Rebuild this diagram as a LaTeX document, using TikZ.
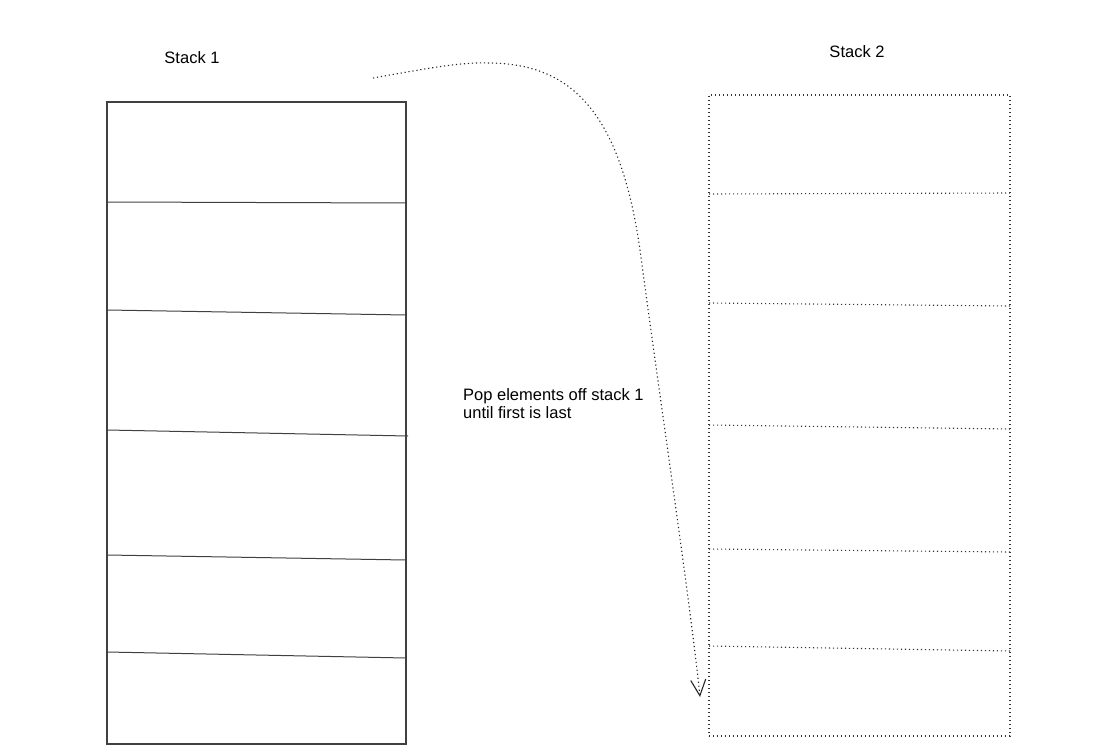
\documentclass[tikz,border=0pt]{standalone}
\usepackage{fontspec}
\setmainfont{Liberation Sans}
\usetikzlibrary{arrows.meta}
\tikzstyle{every node}=[font=\fontsize{16.5}{18}\selectfont]
\tikzstyle{stackbox}=[draw=black!75,
                      line width=1.1pt,
                      inner sep=0pt,
                      minimum width=299pt,
                      minimum height=642pt]
\tikzstyle{tempbox}=[draw=black!80,
                     line width=1.1pt,
                     dash pattern=on 1.2pt off 2.8pt,
                     inner sep=0pt,
                     minimum width=301pt,
                     minimum height=641pt]
\tikzstyle{divider}=[draw=black!75,line width=1pt]
\tikzstyle{tempdivider}=[draw=black!80,line width=1.1pt,dash pattern=on 1.2pt off 2.8pt]

\begin{document}
\begin{tikzpicture}[x=1pt,y=-1pt,>={Straight Barb[length=16pt,width=15pt]}]
\useasboundingbox (0,0) rectangle (1095,752);
% stack 1, solid cells
\node (stack1) [stackbox] at (256.5,423) {};
\node (stack1label) at (192,58) {Stack 1};
\draw[divider] (107,202) -- (406,203);
\draw[divider] (107,310) -- (406,315);
\draw[divider] (107,430) -- (408,436);
\draw[divider] (107,555) -- (406,560);
\draw[divider] (107,652) -- (406,658);
% stack 2, dotted cells
\node (stack2) [tempbox] at (859.5,415.5) {};
\node (stack2label) at (857,52) {Stack 2};
\draw[tempdivider] (709,194) -- (1010,193);
\draw[tempdivider] (709,303) -- (1010,306);
\draw[tempdivider] (709,425) -- (1010,429);
\draw[tempdivider] (709,549) -- (1010,552);
\draw[tempdivider] (709,646) -- (1010,651);
% moving the elements across
\coordinate (popstart) at (373,78);
\coordinate (popend) at (700,697);
\node (poptext) [anchor=north west,align=left,inner sep=0pt] at (463,388)
  {Pop elements off stack 1\\until first is last};
\draw[->,black!85,line width=1.1pt,dash pattern=on 1.2pt off 2.8pt]
  (popstart) .. controls (430,68) and (460,62) .. (490,63)
  .. controls (570,64) and (620,110) .. (640,250)
  .. controls (660,400) and (690,600) .. (popend);
\end{tikzpicture}
\end{document}
